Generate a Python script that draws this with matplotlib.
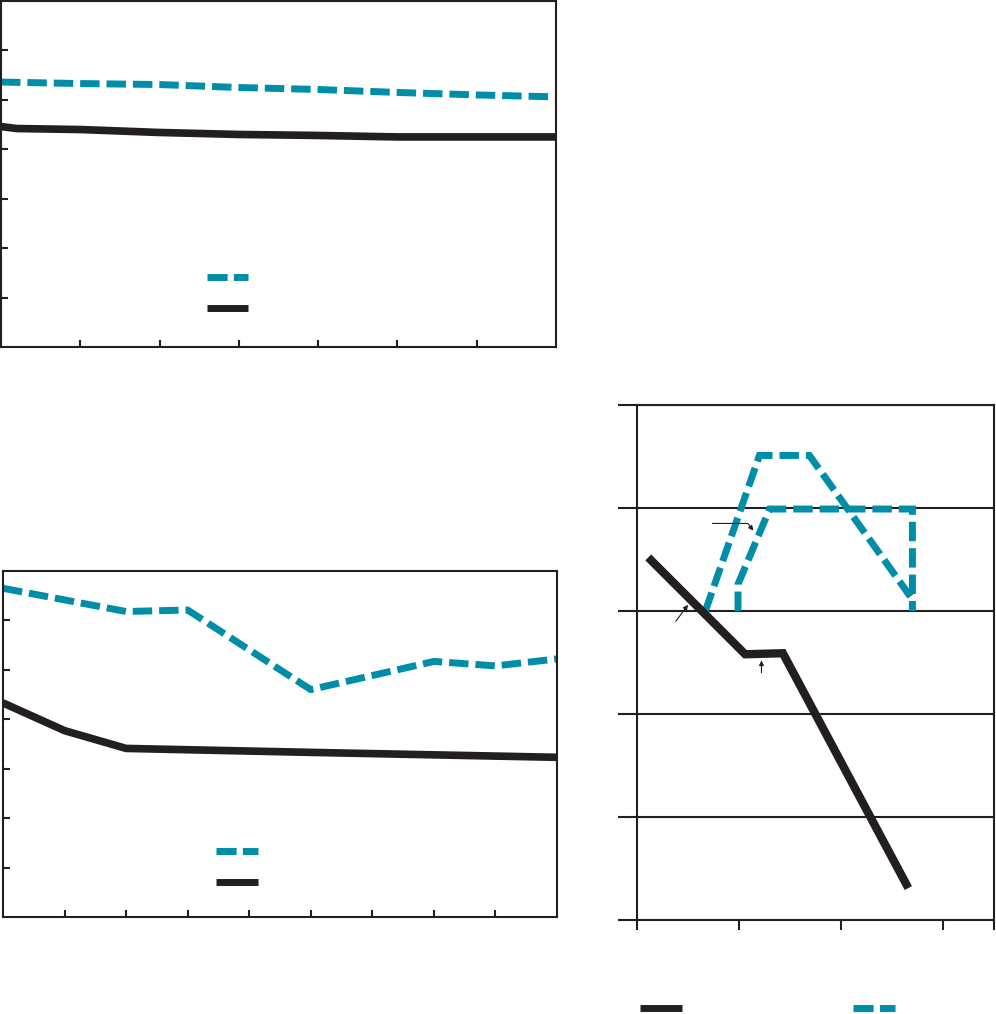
import matplotlib
matplotlib.use("Agg")
import matplotlib.pyplot as plt
from matplotlib.lines import Line2D

plt.rcParams['lines.scale_dashes'] = False

TEAL = '#008da8'
BLACK = '#231f20'
DASH = (0, (14, 5))

# ---- panel 1 (top left) ----
p1_x = [0, 1, 2, 3, 4, 5, 6, 7]
p1_dashed = [5.36, 5.33, 5.31, 5.25, 5.21, 5.15, 5.10, 5.06]
p1_solid_x = [0, 0.2, 1, 2, 3, 4, 5, 6, 7]
p1_solid = [4.46, 4.42, 4.40, 4.34, 4.30, 4.28, 4.25, 4.25, 4.25]

# ---- panel 2 (bottom left) ----
p2_dashed_x = [0, 2, 3, 5, 7, 8, 9]
p2_dashed = [6.65, 6.18, 6.21, 4.60, 5.17, 5.08, 5.22]
p2_solid_x = [0, 1, 2, 5, 7, 9]
p2_solid = [4.33, 3.77, 3.41, 3.33, 3.28, 3.23]

# ---- panel 3 (right) ----
p3_solid_x = [0.11, 1.06, 1.43, 2.66]
p3_solid = [3.52, 2.58, 2.59, 0.31]
p3_dash1_x = [0.67, 1.20, 1.69, 2.68]
p3_dash1 = [3.00, 4.51, 4.51, 3.14]
p3_dash2_x = [0.99, 0.99, 1.30, 2.70, 2.70]
p3_dash2 = [3.00, 3.26, 3.99, 3.99, 3.00]
# arrows: (start, end)
p3_arrows = [
    ((0.74, 3.85), (1.14, 3.78), "angle,angleA=0,angleB=127,rad=0"),
    ((0.38, 2.90), (0.50, 3.06), "arc3"),
    ((1.22, 2.40), (1.22, 2.52), "arc3"),
]

fig = plt.figure(figsize=(9.96, 10.14), dpi=100)


def style_left(ax, xmax, ymax):
    ax.set_xlim(0, xmax)
    ax.set_ylim(0, ymax)
    ax.set_xticks(range(1, xmax))
    ax.set_yticks(range(1, ymax))
    ax.tick_params(direction='in', length=5, width=1.5, color=BLACK,
                   labelbottom=False, labelleft=False)
    for s in ax.spines.values():
        s.set_linewidth(1.5)
        s.set_color(BLACK)


def legend_keys(ax, x0, x1, y_dash, y_solid, clip=True):
    ax.add_line(Line2D([x0, x1], [y_dash, y_dash], transform=ax.transAxes,
                       color=TEAL, lw=5, linestyle=(0, (14.5, 4.5)),
                       dash_capstyle='butt', clip_on=clip))
    ax.add_line(Line2D([x0, x1], [y_solid, y_solid], transform=ax.transAxes,
                       color=BLACK, lw=5, solid_capstyle='butt', clip_on=clip))


ax1 = fig.add_axes([0.001, 0.6578, 0.5572, 0.3412])
style_left(ax1, 7, 7)
ax1.plot(p1_x, p1_dashed, color=TEAL, lw=5, linestyle=DASH, dash_capstyle='butt')
ax1.plot(p1_solid_x, p1_solid, color=BLACK, lw=5.5, solid_capstyle='butt')
legend_keys(ax1, 0.371, 0.445, 0.202, 0.113)

ax2 = fig.add_axes([0.003, 0.0957, 0.5562, 0.3412])
style_left(ax2, 9, 7)
ax2.plot(p2_dashed_x, p2_dashed, color=TEAL, lw=5, linestyle=DASH, dash_capstyle='butt')
ax2.plot(p2_solid_x, p2_solid, color=BLACK, lw=5.5, solid_capstyle='butt')
legend_keys(ax2, 0.384, 0.460, 0.19, 0.10)

ax3 = fig.add_axes([0.6396, 0.0927, 0.3584, 0.5079])
ax3.set_xlim(0, 3.5)
ax3.set_ylim(0, 5)
ax3.set_xticks([0, 1, 2, 3, 3.5])
ax3.set_yticks(range(0, 6))
ax3.tick_params(axis='y', direction='out', length=13.5, width=1.5, color=BLACK,
                labelleft=False)
ax3.tick_params(axis='x', direction='out', length=7, width=1.5, color=BLACK,
                labelbottom=False)
ax3.grid(axis='y', color=BLACK, lw=1.5)
for s in ax3.spines.values():
    s.set_linewidth(1.5)
    s.set_color(BLACK)
ax3.plot(p3_dash1_x, p3_dash1, color=TEAL, lw=5, linestyle=DASH,
         dash_capstyle='butt', solid_joinstyle='miter', dash_joinstyle='miter')
ax3.plot(p3_dash2_x, p3_dash2, color=TEAL, lw=5, linestyle=DASH,
         dash_capstyle='butt', dash_joinstyle='miter')
ax3.plot(p3_solid_x, p3_solid, color=BLACK, lw=6, solid_capstyle='butt',
         solid_joinstyle='miter')
for start, end, conn in p3_arrows:
    ax3.annotate('', xy=end, xytext=start,
                 arrowprops=dict(arrowstyle='-|>', color=BLACK, lw=0.8,
                                 mutation_scale=7, shrinkA=0, shrinkB=0,
                                 connectionstyle=conn))

# legend keys under panel 3
ax3.add_line(Line2D([0.008, 0.126], [-0.171, -0.171], transform=ax3.transAxes,
                    color=BLACK, lw=5, solid_capstyle='butt', clip_on=False))
ax3.add_line(Line2D([0.605, 0.723], [-0.171, -0.171], transform=ax3.transAxes,
                    color=TEAL, lw=5, linestyle=(0, (14.5, 4.5)),
                    dash_capstyle='butt', clip_on=False))

fig.savefig('out.png', dpi=100)
